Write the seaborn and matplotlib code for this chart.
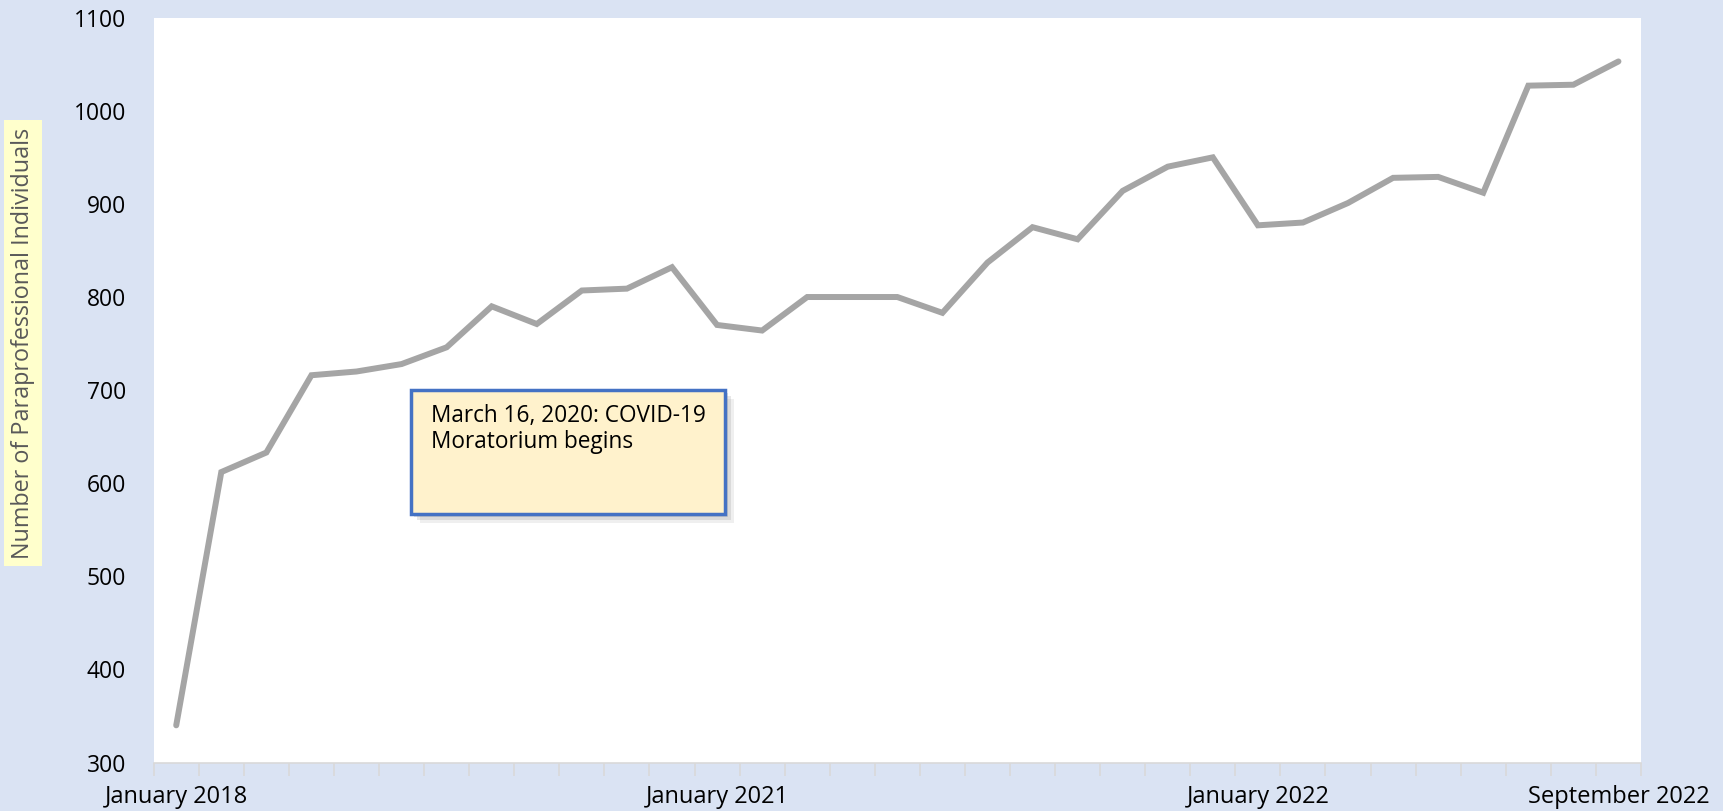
import numpy as np
import pandas as pd
import matplotlib.pyplot as plt
import seaborn as sns
from matplotlib.patches import Rectangle

# Quarterly points for 2018-2020, monthly from January 2021
periods = (
    [f"{m} {y}" for y in (2018, 2019, 2020) for m in ("Jan", "Apr", "Jul", "Oct")]
    + [f"{m} 2021" for m in ("Jan", "Feb", "Mar", "Apr", "May", "Jun",
                             "Jul", "Aug", "Sep", "Oct", "Nov", "Dec")]
    + [f"{m} 2022" for m in ("Jan", "Feb", "Mar", "Apr", "May", "Jun",
                             "Jul", "Aug", "Sep")]
)
individuals = [340, 612, 633, 716, 720, 728, 746, 790, 771, 807, 809, 832,
               770, 764, 800, 800, 800, 783, 837, 875, 862, 914, 940, 950,
               877, 880, 901, 928, 929, 912, 1027, 1028, 1053]
shown_labels = {"Jan 2018": "January 2018", "Jan 2021": "January 2021",
                "Jan 2022": "January 2022", "Sep 2022": "September 2022"}

df = pd.DataFrame({"period": periods, "individuals": individuals})
df["pos"] = np.arange(len(df))

bg = "#DAE3F3"
sns.set_theme(style="white")
plt.rcParams["font.family"] = ["Open Sans", "DejaVu Sans"]

fig = plt.figure(figsize=(17.23, 8.11), dpi=100, facecolor=bg)
ax = fig.add_axes([0.0892, 0.0597, 0.8632, 0.9185])
ax.set_facecolor("white")

sns.lineplot(data=df, x="pos", y="individuals", ax=ax, color="#A5A5A5",
             linewidth=4.3, solid_joinstyle="miter", solid_capstyle="round")

ax.set_xlim(-0.5, len(df) - 0.5)
ax.set_ylim(300, 1100)
ax.set_yticks(np.arange(300, 1101, 100))
ax.tick_params(axis="y", length=0, pad=20, labelsize=16.5, labelcolor="black")

# category tick marks between points, labels only at a few dates
ax.set_xticks(np.arange(-0.5, len(df), 1.0), minor=True)
lab_pos = [i for i, p in enumerate(periods) if p in shown_labels]
ax.set_xticks(lab_pos)
ax.set_xticklabels([shown_labels[periods[i]] for i in lab_pos])
ax.tick_params(axis="x", which="major", length=0, pad=16, labelsize=17,
               labelcolor="black")
ax.tick_params(axis="x", which="minor", length=9, width=1.2, color="#D9D9D9",
               direction="out", bottom=True)

for s in ("top", "right", "left"):
    ax.spines[s].set_visible(False)
ax.spines["bottom"].set_color("#D9D9D9")
ax.spines["bottom"].set_linewidth(1.2)
ax.set_xlabel("")
ax.set_ylabel("")

# y label in a pale yellow box
fig.text(0.0135, 0.577, "Number of Paraprofessional Individuals", rotation=90,
         ha="center", va="center", fontsize=16.8, color="#595959",
         bbox=dict(boxstyle="square,pad=0.3", facecolor="#FFFFCC",
                   edgecolor="none"))

# annotation box with shadow
x0, y0, w, h = 0.173, 0.334, 0.211, 0.166
for k, a in ((0.006, 0.12), (0.004, 0.18), (0.002, 0.22)):
    ax.add_patch(Rectangle((x0 + k, y0 - 2 * k), w, h, transform=ax.transAxes,
                           facecolor="#7F7F7F", alpha=a, edgecolor="none",
                           zorder=4))
ax.add_patch(Rectangle((x0, y0), w, h, transform=ax.transAxes,
                       facecolor="#FFF2CC", edgecolor="#4472C4", linewidth=2.5,
                       zorder=5))
ax.text(x0 + 0.0135, y0 + h - 0.018, "March 16, 2020: COVID-19\nMoratorium begins",
        transform=ax.transAxes, ha="left", va="top", fontsize=16.3,
        color="black", linespacing=1.15, zorder=6)

fig.savefig("out.png", dpi=100, facecolor=bg)
